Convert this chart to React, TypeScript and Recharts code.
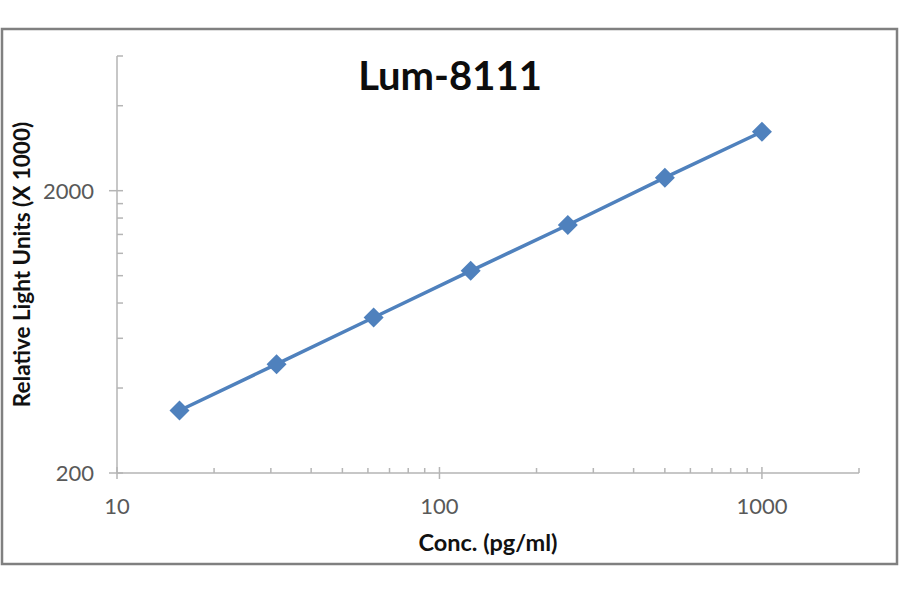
import React from 'react';
import { LineChart, Line, XAxis, YAxis, Label } from 'recharts';

const concentrations = [15.625, 31.25, 62.5, 125, 250, 500, 1000];
const rluValues = [333, 486, 711, 1040, 1512, 2224, 3234];
const xTicks = [10, 20, 30, 40, 50, 60, 70, 80, 90, 100, 200, 300, 400, 500, 600, 700, 800, 900, 1000, 2000];
const xMajorTicks = [10, 100, 1000];
const yTicks = [200, 400, 600, 800, 1000, 1200, 1400, 1600, 1800, 2000, 4000, 6000];
const yMajorTicks = [200, 2000];
const chartTitle = 'Lum-8111';
const xTitle = 'Conc. (pg/ml)';
const yTitle = 'Relative Light Units (X 1000)';

const data = concentrations.map((x, i) => ({ x, y: rluValues[i] }));

const FONT = 'Lato, "Open Sans", sans-serif';
const AXIS_COLOR = '#b5b5b5';
const SERIES_COLOR = '#4f81bd';

const XTick = (props: any) => {
  const { x, y, payload } = props;
  const v = payload.value;
  const major = xMajorTicks.includes(v);
  return (
    <g>
      <line x1={x} x2={x} y1={major ? y - 6 : y - 5} y2={major ? y + 6 : y} stroke={AXIS_COLOR} strokeWidth={1.5} />
      {major && (
        <text x={x} y={y + 25} dy="0.72em" textAnchor="middle" fill="#595959" fontSize={22} fontFamily={FONT}>
          {v}
        </text>
      )}
    </g>
  );
};

const YTick = (props: any) => {
  const { x, y, payload } = props;
  const v = payload.value;
  const major = yMajorTicks.includes(v);
  return (
    <g>
      <line x1={major ? x - 8 : x} x2={x + 6} y1={y} y2={y} stroke={AXIS_COLOR} strokeWidth={1.5} />
      {major && (
        <text x={x - 23} y={y} dy="0.36em" textAnchor="end" fill="#595959" fontSize={22} fontFamily={FONT}>
          {v}
        </text>
      )}
    </g>
  );
};

const XTitle = (props: any) => {
  const vb = props.viewBox || {};
  return (
    <text x={vb.x + vb.width / 2} y={vb.y + 78} textAnchor="middle" fontSize={23.5} fontWeight="bold" fontFamily={FONT} fill="#111">
      {xTitle}
    </text>
  );
};

const YTitle = (props: any) => {
  const vb = props.viewBox || {};
  const cx = vb.x + 30;
  const cy = vb.y + vb.height / 2;
  return (
    <text x={cx} y={cy} transform={`rotate(-90 ${cx} ${cy})`} textAnchor="middle" fontSize={22.5} fontWeight="bold" fontFamily={FONT} fill="#111">
      {yTitle}
    </text>
  );
};

const Diamond = (props: any) => {
  const { cx, cy } = props;
  if (cx == null || cy == null) return null;
  const r = 10;
  return <path d={`M${cx},${cy - r}L${cx + r},${cy}L${cx},${cy + r}L${cx - r},${cy}Z`} fill={SERIES_COLOR} />;
};

export default function App() {
  return (
    <div style={{ position: 'absolute', left: 0, top: 0, width: 900, height: 594, background: '#fff' }}>
      <svg width={900} height={594} style={{ position: 'absolute', left: 0, top: 0 }}>
        <rect x={2} y={29} width={895} height={535} fill="#fff" stroke="#808080" strokeWidth={2.5} />
        <text x={450} y={90} textAnchor="middle" fontSize={40} fontWeight="bold" fontFamily={FONT} fill="#0d0d0d">
          {chartTitle}
        </text>
      </svg>
      <div style={{ position: 'absolute', left: 0, top: 0 }}>
        <LineChart width={900} height={594} data={data} margin={{ top: 56, right: 41, bottom: 0, left: 0 }}>
          <XAxis
            dataKey="x"
            type="number"
            scale="log"
            domain={[10, 2000]}
            ticks={xTicks}
            interval={0}
            tickLine={false}
            tickSize={0}
            tickMargin={0}
            tick={<XTick />}
            axisLine={{ stroke: AXIS_COLOR, strokeWidth: 1.5 }}
            height={121}
            allowDataOverflow
          >
            <Label content={<XTitle />} />
          </XAxis>
          <YAxis
            dataKey="y"
            type="number"
            scale="log"
            domain={[200, 6000]}
            ticks={yTicks}
            interval={0}
            tickLine={false}
            tickSize={0}
            tickMargin={0}
            tick={<YTick />}
            axisLine={{ stroke: AXIS_COLOR, strokeWidth: 1.5 }}
            width={117}
            allowDataOverflow
          >
            <Label content={<YTitle />} />
          </YAxis>
          <Line
            dataKey="y"
            stroke={SERIES_COLOR}
            strokeWidth={3.5}
            dot={(p: any) => <Diamond key={`d-${p.index}`} {...p} />}
            activeDot={false}
            isAnimationActive={false}
          />
        </LineChart>
      </div>
    </div>
  );
}
